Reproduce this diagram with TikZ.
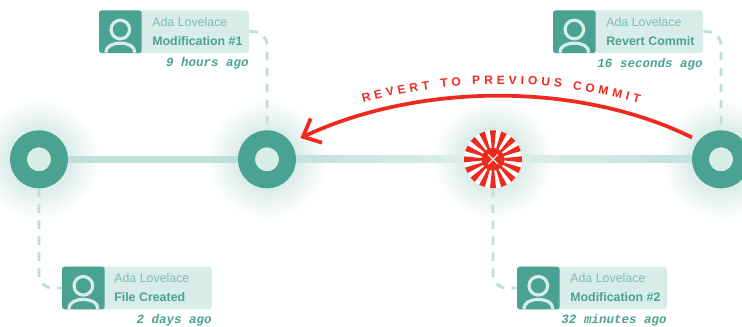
\documentclass[tikz,border=0pt]{standalone}
\usepackage{fontspec}
\setmainfont{Liberation Sans}
\newfontfamily\timefont{Liberation Mono}
\usetikzlibrary{arrows.meta, backgrounds, decorations.text}
\definecolor{tealdark}{HTML}{4AA392}
\definecolor{teallight}{HTML}{D8ECE8}
\definecolor{tealline}{HTML}{BFDFD9}
\definecolor{tealfade}{HTML}{E0EFEC}
\definecolor{tealname}{HTML}{7FBFB1}
\definecolor{tealglow}{HTML}{B8DAD3}
\definecolor{revred}{HTML}{EE2A1E}
\tikzset{
    commit/.style={circle, minimum size=30.75pt, inner sep=0pt, line width=12.75pt, draw=tealdark, fill=teallight},
    revoked/.style={circle, minimum size=43.5pt, inner sep=0pt, fill=white},
    card/.style={rectangle, rounded corners=2.5pt, minimum width=112.5pt, minimum height=32pt, inner sep=0pt, fill=teallight},
    avatar/.style={rectangle, rounded corners=2pt, minimum width=32pt, minimum height=32pt, inner sep=0pt, fill=tealdark, anchor=west},
    whotext/.style={anchor=base west, inner sep=0pt, text=tealname, font=\fontsize{9.3pt}{11pt}\selectfont},
    msgtext/.style={anchor=base west, inner sep=0pt, text=tealdark, font=\fontsize{9.3pt}{11pt}\selectfont\bfseries},
    timetext/.style={anchor=base east, inner sep=0pt, text=tealdark, font=\fontsize{9.4pt}{11pt}\timefont\bfseries\itshape},
    timeline/.style={line width=5.2pt, tealline},
    dashline/.style={line width=2.2pt, tealline, rounded corners=10pt, dash pattern=on 6.5pt off 5.5pt},
    revarrow/.style={line width=2.8pt, revred, -{Straight Barb[length=11pt, width=20pt]}},
    person/.pic={
        \draw [line width=2.4pt, teallight] (0,-2.2) circle (9.3);
        \draw [line width=2.4pt, teallight] (-14.5,21) .. controls (-14.5,14.5) and (-8,11.5) .. (0,11.5) .. controls (8,11.5) and (14.5,14.5) .. (14.5,21);
    }
}

\begin{document}
\begin{tikzpicture}[x=0.75pt, y=-0.75pt]
    \useasboundingbox (0,0) rectangle (742,327);

    % Commits on the line
    \node (first) [commit] at (39,159.3) {};
    \node (second) [commit] at (267,159.3) {};
    \node (bad) [revoked] at (493,159.3) {};
    \node (last) [commit] at (721,159.3) {};

    % Revoked commit
    \foreach \ang in {0,22.5,...,337.5} {
        \fill [revred] (bad.center) -- ++(\ang-6:29) -- ++(\ang+90:6) -- cycle;
    }
    \fill [revred] (bad.center) circle (11.5);
    \draw [line width=0.9pt, teallight] ([xshift=-3.6pt, yshift=-3.6pt]bad.center) -- ([xshift=3.6pt, yshift=3.6pt]bad.center);
    \draw [line width=0.9pt, teallight] ([xshift=-3.6pt, yshift=3.6pt]bad.center) -- ([xshift=3.6pt, yshift=-3.6pt]bad.center);

    % Top left card
    \node (cardB) [card] at (174,31.7) {};
    \node (avaB) [avatar] at (cardB.west) {};
    \pic at (avaB.center) {person};
    \node (whoB) [whotext] at (152,27) {Ada Lovelace};
    \node (msgB) [msgtext] at (152,46) {Modification \#1};
    \node (timeB) [timetext] at (249,67) {9 hours ago};

    % Top right card
    \node (cardD) [card] at (628,31.7) {};
    \node (avaD) [avatar] at (cardD.west) {};
    \pic at (avaD.center) {person};
    \node (whoD) [whotext] at (606,27) {Ada Lovelace};
    \node (msgD) [msgtext] at (606,46) {Revert Commit};
    \node (timeD) [timetext] at (703,68) {16 seconds ago};

    % Bottom left card
    \node (cardA) [card] at (137,288) {};
    \node (avaA) [avatar] at (cardA.west) {};
    \pic at (avaA.center) {person};
    \node (whoA) [whotext] at (114,283) {Ada Lovelace};
    \node (msgA) [msgtext] at (114,302) {File Created};
    \node (timeA) [timetext] at (212,324) {2 days ago};

    % Bottom right card
    \node (cardC) [card] at (592,288) {};
    \node (avaC) [avatar] at (cardC.west) {};
    \pic at (avaC.center) {person};
    \node (whoC) [whotext] at (570,283) {Ada Lovelace};
    \node (msgC) [msgtext] at (570,302) {Modification \#2};
    \node (timeC) [timetext] at (667,324) {32 minutes ago};

    % Revert arrow and its label
    \coordinate (revFrom) at (692,137.5);
    \coordinate (revTo) at (300.5,138);
    \draw [revarrow] (revFrom) .. controls (580,82) and (420,82) .. (revTo);
    \coordinate (labelFrom) at (363,102.5);
    \coordinate (labelTo) at (639,103);
    \path [decorate, decoration={text along path, text align={fit to path}, text={|\fontsize{9pt}{11pt}\selectfont\bfseries\color{revred}|REVERT TO PREVIOUS COMMIT}}] (labelFrom) .. controls (456,78) and (549,78) .. (labelTo);

    % Glow and line behind the commits
    \begin{scope}[on background layer]
        \shade [inner color=tealglow, outer color=white] (first) circle (60);
        \shade [inner color=tealglow, outer color=white] (second) circle (60);
        \shade [inner color=tealglow, outer color=white] (bad) circle (60);
        \shade [inner color=tealglow, outer color=white] (last) circle (60);
        \draw [timeline] (first) -- (second);
        \shade [left color=tealline, right color=tealfade] ([yshift=-2.6pt]second.center) rectangle ([yshift=2.6pt]bad.center);
        \shade [left color=tealfade, right color=tealline] ([yshift=-2.6pt]bad.center) rectangle ([yshift=2.6pt]last.center);
        \draw [dashline] (cardB.east) -| (second.north);
        \draw [dashline] (cardD.east) -| (last.north);
        \draw [dashline] (first.south) |- (cardA.west);
        \draw [dashline] (bad.south) |- (cardC.west);
    \end{scope}
\end{tikzpicture}
\end{document}
